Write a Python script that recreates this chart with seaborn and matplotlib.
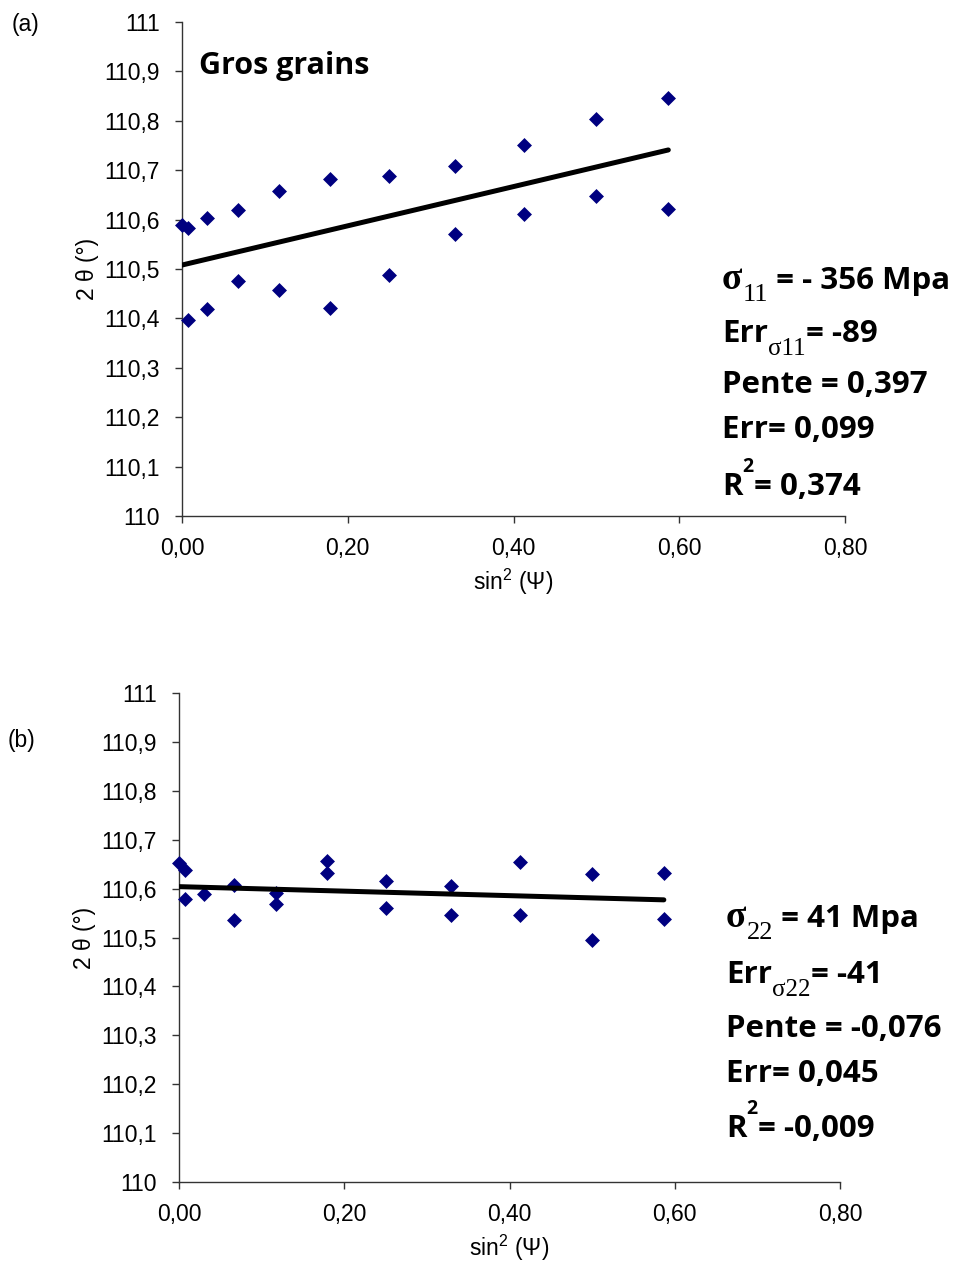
import numpy as np
import pandas as pd
import matplotlib
matplotlib.use("Agg")
import matplotlib.pyplot as plt
import seaborn as sns
from matplotlib.ticker import FuncFormatter

# sin^2(psi) positions (psi = 0..50 deg)
sin2_psi = [0.0, 0.0076, 0.0302, 0.0670, 0.1170, 0.1786, 0.2500, 0.3290, 0.4132, 0.5000, 0.5868]

# panel (a) - gros grains
a_upper = [110.589, 110.582, 110.603, 110.619, 110.657, 110.682, 110.689, 110.708, 110.752, 110.804, 110.847]
a_lower = [np.nan, 110.397, 110.420, 110.476, 110.458, 110.421, 110.488, 110.570, 110.612, 110.648, 110.621]
a_fit_x = [0.0, 0.5868]
a_fit_y = [110.508, 110.741]

# panel (b)
b_upper = [110.653, 110.638, 110.588, 110.608, 110.592, 110.657, 110.615, 110.606, 110.655, 110.630, 110.632]
b_lower = [np.nan, 110.579, np.nan, 110.535, 110.569, 110.632, 110.560, 110.545, 110.547, 110.494, 110.538]
b_fit_x = [0.0, 0.5868]
b_fit_y = [110.604, 110.577]

# annotations: stress index, stress, its error, slope, slope error, R2
a_idx, a_vals = "11", ["- 356 Mpa", "-89", "0,397", "0,099", "0,374"]
b_idx, b_vals = "22", ["41 Mpa", "-41", "-0,076", "0,045", "-0,009"]

sns.set_style("ticks")
plt.rcParams['font.family'] = ['Liberation Sans', 'DejaVu Sans']
plt.rcParams['text.color'] = 'black'
plt.rcParams['axes.labelcolor'] = 'black'
plt.rcParams['xtick.labelcolor'] = 'black'
plt.rcParams['ytick.labelcolor'] = 'black'

W, H = 963, 1266
fig = plt.figure(figsize=(W / 100, H / 100), dpi=100)
renderer = fig.canvas.get_renderer()

BOLD = dict(fontsize=22.5, fontweight="bold", family=["Open Sans", "DejaVu Sans"])
SIG = dict(fontsize=27, fontweight="bold", family=["Liberation Serif", "DejaVu Serif"])
SUB = dict(fontsize=19, family=["Liberation Serif", "DejaVu Serif"])
SUBSIG = dict(fontsize=18, family=["Liberation Serif", "DejaVu Serif"])
SUP = dict(fontsize=14, fontweight="bold", family=["Open Sans", "DejaVu Sans"])


def px_axes(l, t, r, b):
    return fig.add_axes([l / W, 1 - b / H, (r - l) / W, (b - t) / H])


def chain(x, y, pieces):
    # pieces: (text, style, raise in px)
    for s, kw, dy in pieces:
        t = fig.text(x / W, 1 - (y - dy) / H, s, va="baseline", **kw)
        x += t.get_window_extent(renderer).width


def draw_panel(ax, upper, lower, fx, fy):
    df = pd.DataFrame({"x": sin2_psi * 2, "y": upper + lower}).dropna()
    sns.scatterplot(data=df, x="x", y="y", ax=ax, marker="D", s=58, color="#000080",
                    linewidth=0, clip_on=False, zorder=3)
    sns.lineplot(x=fx, y=fy, ax=ax, color="black", linewidth=3.6, zorder=4)
    ax.set_xlim(0, 0.8)
    ax.set_ylim(110, 111)
    ax.set_xticks([0, 0.2, 0.4, 0.6, 0.8])
    ax.set_yticks(np.arange(110, 111.01, 0.1))
    ax.xaxis.set_major_formatter(FuncFormatter(lambda v, p: "{:.2f}".format(v).replace(".", ",")))
    ax.yaxis.set_major_formatter(FuncFormatter(
        lambda v, p: ("{:.1f}".format(v)).rstrip("0").rstrip(".").replace(".", ",")))
    ax.tick_params(labelsize=16.5, length=5, width=1, color="#333333")
    ax.tick_params(axis="y", pad=11)
    ax.tick_params(axis="x", pad=10)
    ax.set_xlabel(r"sin$^{\mathregular{2}}$ (Ψ)", fontsize=16.5, labelpad=5)
    ax.set_ylabel("2 θ (°)", fontsize=16.5, labelpad=4)
    sns.despine(ax=ax)
    for s in ["left", "bottom"]:
        ax.spines[s].set_color("#333333")
        ax.spines[s].set_linewidth(1)


def annotate(x, rows_y, idx, vals):
    chain(x, rows_y[0], [("σ", SIG, 0), (idx, SUB, -12), (" = " + vals[0], BOLD, 0)])
    chain(x, rows_y[1], [("Err", BOLD, 0), ("σ" + idx, SUBSIG, -13), ("= " + vals[1], BOLD, 0)])
    chain(x, rows_y[2], [("Pente = " + vals[2], BOLD, 0)])
    chain(x, rows_y[3], [("Err= " + vals[3], BOLD, 0)])
    chain(x, rows_y[4], [("R", BOLD, 0), ("2", SUP, 23), ("= " + vals[4], BOLD, 0)])


ax1 = px_axes(182, 22, 845, 516)
draw_panel(ax1, a_upper, a_lower, a_fit_x, a_fit_y)
ax2 = px_axes(179, 693, 840, 1182)
draw_panel(ax2, b_upper, b_lower, b_fit_x, b_fit_y)

fig.text(12 / W, 1 - 25 / H, "(a)", fontsize=16.5, va="center")
fig.text(8 / W, 1 - 740 / H, "(b)", fontsize=16.5, va="center")
fig.text(199 / W, 1 - 74 / H, "Gros grains", va="baseline", **dict(BOLD, fontsize=22))

annotate(722, [289, 342, 393, 438, 495], a_idx, a_vals)
annotate(726, [927, 983, 1037, 1082, 1137], b_idx, b_vals)

fig.savefig("out.png", dpi=100)
